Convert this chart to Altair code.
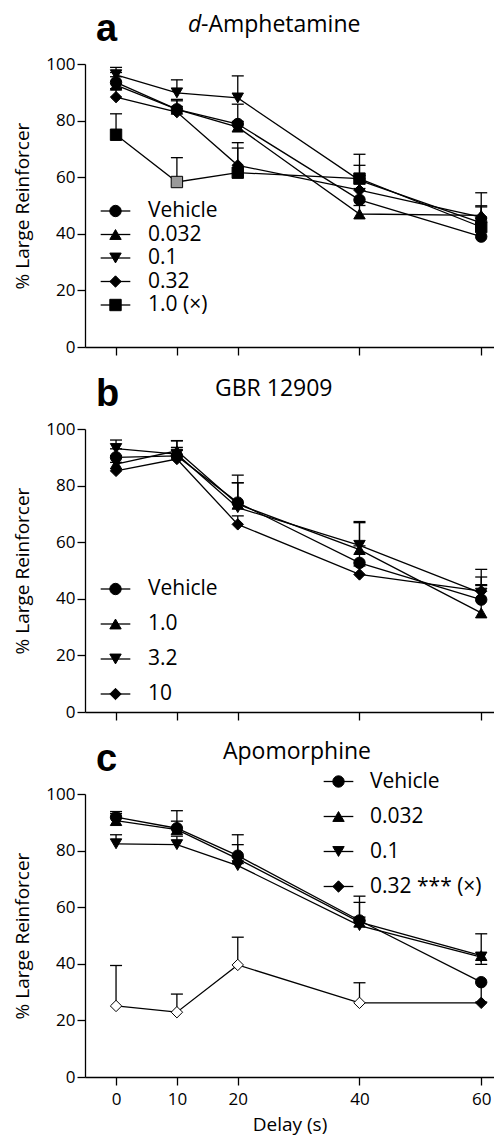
import altair as alt
import pandas as pd

FONT = "Open Sans"

DELAYS = [0, 10, 20, 40, 60]
X_TICKS = [0, 10, 20, 40, 60]
Y_TICKS = [0, 20, 40, 60, 80, 100]

# ---- Panel a: d-Amphetamine ----
A_GROUPS = ["Vehicle", "0.032", "0.1", "0.32", "1.0 (×)"]
A_MEAN = [
    [93.5, 84.0, 78.8, 52.0, 39.0],
    [92.5, 84.0, 77.7, 47.0, 46.5],
    [96.2, 89.8, 88.0, 58.9, 43.9],
    [88.3, 83.0, 64.2, 55.4, 45.9],
    [75.0, 58.3, 61.6, 59.5, 42.4],
]
A_ERR = [
    [3.5, 3.5, 7.0, 4.0, 5.0],
    [3.0, 3.0, 2.0, 3.0, 3.0],
    [2.6, 4.6, 7.8, 5.3, 6.0],
    [3.0, 2.0, 8.0, 4.0, 8.6],
    [7.4, 8.6, 8.7, 8.6, 3.0],
]
A_STATUS = [
    ["filled"] * 5,
    ["filled"] * 5,
    ["filled"] * 5,
    ["filled"] * 5,
    ["filled", "grey", "filled", "filled", "filled"],
]

# ---- Panel b: GBR 12909 ----
B_GROUPS = ["Vehicle", "1.0", "3.2", "10"]
B_MEAN = [
    [90.0, 90.5, 74.0, 52.7, 39.7],
    [87.6, 92.3, 73.4, 57.4, 35.0],
    [93.1, 91.1, 72.2, 58.9, 42.0],
    [85.2, 89.4, 66.3, 48.6, 42.7],
]
B_ERR = [
    [3.0, 3.0, 9.7, 6.0, 5.0],
    [3.0, 3.5, 7.6, 9.5, 10.0],
    [3.0, 4.8, 8.8, 8.4, 8.4],
    [3.0, 3.0, 3.0, 3.0, 5.0],
]
B_STATUS = [["filled"] * 5 for _ in range(4)]

# ---- Panel c: Apomorphine ----
C_GROUPS = ["Vehicle", "0.032", "0.1", "0.32 *** (×)"]
C_MEAN = [
    [91.8, 87.9, 78.2, 55.3, 33.5],
    [90.6, 87.4, 77.1, 54.7, 42.9],
    [82.4, 82.1, 74.7, 53.5, 42.4],
    [25.1, 22.9, 39.6, 26.2, 26.2],
]
C_ERR = [
    [2.0, 6.2, 7.4, 8.6, -7.0],
    [2.5, 3.0, 5.0, 7.0, 7.7],
    [3.2, 3.0, 3.0, 3.0, -2.6],
    [14.3, 6.4, 9.8, 7.1, 0.0],
]
C_STATUS = [
    ["filled"] * 5,
    ["filled"] * 5,
    ["filled"] * 5,
    ["open", "open", "open", "open", "filled"],
]

SHAPES = ["circle", "triangle-up", "triangle-down", "diamond", "square"]
STATUS_DOMAIN = ["filled", "grey", "open"]
STATUS_RANGE = ["black", "#9a9a9a", "white"]

PLOT_W = 409
X_DOMAIN = [-5.1, 62.1]


def make_df(groups, means, errs, status):
    rows = []
    for gi, g in enumerate(groups):
        for di, d in enumerate(DELAYS):
            m = means[gi][di]
            e = errs[gi][di]
            rows.append(dict(delay=d, mean=m, err=e, top=m + e, group=g, g2=g,
                             status=status[gi][di]))
    return pd.DataFrame(rows)


def panel(df, groups, letter, title_segments, lx, ly, row_pad, label_off, bottom):
    n = len(groups)
    xscale = alt.Scale(domain=X_DOMAIN, nice=False, zero=False)
    xaxis = alt.Axis(values=X_TICKS, labels=bottom, title="Delay (s)" if bottom else None,
                     tickSize=8, labelPadding=6, titlePadding=8, grid=False)
    yscale = alt.Scale(domain=[0, 100], nice=False)
    yaxis = alt.Axis(values=Y_TICKS, title="% Large Reinforcer", tickSize=8,
                     labelPadding=2, titlePadding=13, grid=False)
    x = alt.X("delay:Q", scale=xscale, axis=xaxis)
    base = alt.Chart(df)

    lines = base.mark_line(strokeWidth=1.3).encode(
        x=x,
        y=alt.Y("mean:Q", scale=yscale, axis=yaxis),
        stroke=alt.Stroke(
            "g2:N", sort=groups, scale=alt.Scale(range=["black"]),
            legend=alt.Legend(
                orient="none", legendX=lx, legendY=ly, title=None,
                symbolType="M-2.6,0H2.6", symbolSize=130, symbolStrokeWidth=1.3,
                symbolStrokeColor="black", labelExpr="''", labelFontSize=21,
                labelFont=FONT, rowPadding=row_pad, padding=0,
            ),
        ),
    )
    rules = base.mark_rule(strokeWidth=1.3, color="black").encode(
        x=x, y=alt.Y("mean:Q", scale=yscale, axis=yaxis), y2=alt.Y2("top:Q")
    )
    caps = base.transform_filter("datum.err != 0").mark_point(
        shape="M-1,0H1", size=144, filled=False, stroke="black", strokeWidth=1.3, opacity=1
    ).encode(x=x, y=alt.Y("top:Q", scale=yscale, axis=yaxis))
    points = base.mark_point(filled=True, size=130, stroke="black", strokeWidth=1,
                             opacity=1).encode(
        x=x,
        y=alt.Y("mean:Q", scale=yscale, axis=yaxis),
        shape=alt.Shape(
            "group:N", scale=alt.Scale(domain=groups, range=SHAPES[:n]),
            legend=alt.Legend(
                orient="none", legendX=lx, legendY=ly, title=None,
                symbolSize=130, symbolStrokeWidth=1, symbolFillColor="black",
                symbolStrokeColor="black", labelFont=FONT, labelFontSize=21,
                labelColor="black", labelOffset=label_off, rowPadding=row_pad,
                padding=0,
            ),
        ),
        fill=alt.Fill("status:N", scale=alt.Scale(domain=STATUS_DOMAIN, range=STATUS_RANGE),
                      legend=None),
    )
    layers = [lines, rules, caps, points]
    letter_layer = alt.Chart(pd.DataFrame({"t": [letter]})).mark_text(
        align="left", baseline="alphabetic", font="Liberation Sans", fontSize=38,
        fontWeight="bold", color="black"
    ).encode(text="t:N", x=alt.value(11), y=alt.value(-23))
    layers.append(letter_layer)
    for txt, tx, ty, italic in title_segments:
        layers.append(
            alt.Chart(pd.DataFrame({"t": [txt]})).mark_text(
                align="left", baseline="alphabetic", font=FONT, fontSize=23,
                fontStyle="italic" if italic else "normal", color="black"
            ).encode(text="t:N", x=alt.value(tx), y=alt.value(ty))
        )
    return alt.layer(*layers).properties(width=PLOT_W, height=283)


dfa = make_df(A_GROUPS, A_MEAN, A_ERR, A_STATUS)
dfb = make_df(B_GROUPS, B_MEAN, B_ERR, B_STATUS)
dfc = make_df(C_GROUPS, C_MEAN, C_ERR, C_STATUS)

pa = panel(dfa, A_GROUPS, "a", [("d", 103, -32, True), ("-Amphetamine", 116, -32, False)],
           20, 136.5, 1.5, 22, False)
pb = panel(dfb, B_GROUPS, "b", [("GBR 12909", 130, -33, False)],
           20, 149.5, 13, 22, False)
pc = panel(dfc, C_GROUPS, "c", [("Apomorphine", 138, -35, False)],
           243, -23, 13, 21, True)

chart = (
    alt.vconcat(pa, pb, pc, spacing=82, bounds="flush")
    .resolve_scale(shape="independent", stroke="independent", fill="independent")
    .resolve_legend(shape="independent", stroke="independent")
    .properties(padding={"left": 5, "top": 3, "right": 0, "bottom": 3})
    .configure_view(stroke=None)
    .configure_axis(
        labelFont=FONT, labelFontSize=17, labelColor="black",
        titleFont=FONT, titleFontSize=19, titleFontWeight="normal", titleColor="black",
        domainColor="black", domainWidth=1.3, tickColor="black", tickWidth=1.3,
    )
)

chart.save("out.html", embed_options={"renderer": "svg", "actions": False})
